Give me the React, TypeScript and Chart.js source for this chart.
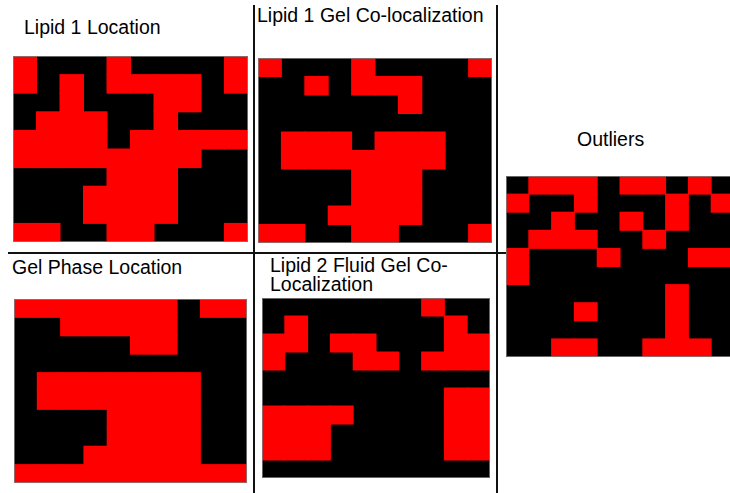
import React, { useEffect, useRef } from "react";
import { Chart, registerables } from "chart.js";

Chart.register(...registerables);

// ---- data ----
const columnLabels = ["c0", "c1", "c2", "c3", "c4", "c5", "c6", "c7", "c8", "c9"];

const lipid1Location = [
  [1, 0, 0, 0, 1, 0, 0, 0, 0, 1],
  [1, 0, 1, 0, 1, 1, 1, 1, 0, 1],
  [0, 0, 1, 0, 0, 0, 1, 1, 0, 0],
  [0, 1, 1, 1, 0, 0, 1, 0, 0, 0],
  [1, 1, 1, 1, 0, 1, 1, 1, 1, 1],
  [1, 1, 1, 1, 1, 1, 1, 1, 0, 0],
  [0, 0, 0, 0, 1, 1, 1, 0, 0, 0],
  [0, 0, 0, 1, 1, 1, 1, 0, 0, 0],
  [0, 0, 0, 1, 1, 1, 1, 0, 0, 0],
  [1, 1, 0, 0, 1, 1, 0, 0, 0, 1],
];

const lipid1GelColocalization = [
  [1, 0, 0, 0, 1, 0, 0, 0, 0, 1],
  [0, 0, 1, 0, 1, 1, 1, 0, 0, 0],
  [0, 0, 0, 0, 0, 0, 1, 0, 0, 0],
  [0, 0, 0, 0, 0, 0, 0, 0, 0, 0],
  [0, 1, 1, 1, 0, 1, 1, 1, 0, 0],
  [0, 1, 1, 1, 1, 1, 1, 1, 0, 0],
  [0, 0, 0, 0, 1, 1, 1, 0, 0, 0],
  [0, 0, 0, 0, 1, 1, 1, 0, 0, 0],
  [0, 0, 0, 1, 1, 1, 1, 0, 0, 0],
  [1, 1, 0, 0, 1, 1, 0, 0, 0, 1],
];

const outliers = [
  [0, 1, 1, 1, 0, 1, 1, 0, 1, 0],
  [1, 0, 0, 1, 0, 0, 0, 1, 0, 1],
  [0, 0, 1, 0, 0, 1, 0, 1, 0, 0],
  [0, 1, 1, 1, 0, 0, 1, 0, 0, 0],
  [1, 0, 0, 0, 1, 0, 0, 0, 1, 1],
  [1, 0, 0, 0, 0, 0, 0, 0, 0, 0],
  [0, 0, 0, 0, 0, 0, 0, 1, 0, 0],
  [0, 0, 0, 1, 0, 0, 0, 1, 0, 0],
  [0, 0, 0, 0, 0, 0, 0, 1, 0, 0],
  [0, 0, 1, 1, 0, 0, 1, 1, 1, 0],
];

const gelPhaseLocation = [
  [1, 1, 1, 1, 1, 1, 1, 0, 1, 1],
  [0, 0, 1, 1, 1, 1, 1, 0, 0, 0],
  [0, 0, 0, 0, 0, 1, 1, 0, 0, 0],
  [0, 0, 0, 0, 0, 0, 0, 0, 0, 0],
  [0, 1, 1, 1, 1, 1, 1, 1, 0, 0],
  [0, 1, 1, 1, 1, 1, 1, 1, 0, 0],
  [0, 0, 0, 0, 1, 1, 1, 1, 0, 0],
  [0, 0, 0, 0, 1, 1, 1, 1, 0, 0],
  [0, 0, 0, 1, 1, 1, 1, 1, 0, 0],
  [1, 1, 1, 1, 1, 1, 1, 1, 1, 1],
];

const lipid2FluidGelColocalization = [
  [0, 0, 0, 0, 0, 0, 0, 1, 0, 0],
  [0, 1, 0, 0, 0, 0, 0, 0, 1, 0],
  [1, 1, 0, 1, 1, 0, 0, 0, 1, 1],
  [1, 0, 0, 0, 1, 1, 0, 1, 1, 1],
  [0, 0, 0, 0, 0, 0, 0, 0, 0, 0],
  [0, 0, 0, 0, 0, 0, 0, 0, 1, 1],
  [1, 1, 1, 1, 0, 0, 0, 0, 1, 1],
  [1, 1, 1, 0, 0, 0, 0, 0, 1, 1],
  [1, 1, 1, 0, 0, 0, 0, 0, 1, 1],
  [0, 0, 0, 0, 0, 0, 0, 0, 0, 0],
];

// ---- layout / style ----
const RED = "#ff0000";
const BLACK = "#000000";
const FONT = "'Liberation Sans', Arial, sans-serif";

const panels = [
  { grid: lipid1Location, x: 13, y: 56, w: 235, h: 186 },
  { grid: lipid1GelColocalization, x: 258, y: 58, w: 234, h: 185 },
  { grid: outliers, x: 506, y: 176, w: 228, h: 181 },
  { grid: gelPhaseLocation, x: 14, y: 299, w: 233, h: 184 },
  { grid: lipid2FluidGelColocalization, x: 262, y: 298, w: 228, h: 180 },
];

const titles = [
  { lines: ["Lipid 1 Location"], left: 24, top: 18.3 },
  { lines: ["Lipid 1 Gel Co-localization"], left: 257, top: 5.5 },
  { lines: ["Outliers"], left: 577, top: 130.3 },
  { lines: ["Gel Phase Location"], left: 12, top: 257.6 },
  { lines: ["Lipid 2 Fluid Gel Co-", "Localization"], left: 270, top: 255.8 },
];

const frameRules = [
  { left: 253, top: 5, width: 2, height: 488 },
  { left: 496, top: 5, width: 2, height: 488 },
  { left: 8, top: 252, width: 498, height: 2 },
];

// black background behind the cells, gray frame around them
const framePlugin = {
  id: "cellFrame",
  beforeDatasetsDraw(chart: any) {
    const { ctx, chartArea } = chart;
    ctx.save();
    ctx.fillStyle = BLACK;
    ctx.fillRect(chartArea.left, chartArea.top, chartArea.right - chartArea.left, chartArea.bottom - chartArea.top);
    ctx.restore();
  },
  afterDraw(chart: any) {
    const { ctx, chartArea } = chart;
    ctx.save();
    ctx.strokeStyle = "rgba(128,128,128,0.8)";
    ctx.lineWidth = 1;
    ctx.strokeRect(
      chartArea.left + 0.5,
      chartArea.top + 0.5,
      chartArea.right - chartArea.left - 1,
      chartArea.bottom - chartArea.top - 1
    );
    ctx.restore();
  },
};

function GridChart({ grid, x, y, w, h }: { grid: number[][]; x: number; y: number; w: number; h: number }) {
  const ref = useRef<HTMLCanvasElement | null>(null);
  useEffect(() => {
    if (!ref.current) return;
    const nRows = grid.length;
    const chart = new Chart(ref.current, {
      type: "bar",
      data: {
        labels: columnLabels,
        datasets: grid.map((row, r) => ({
          label: "row " + r,
          data: row.map((v) => (v ? [nRows - 1 - r, nRows - r] : null)) as any,
          backgroundColor: RED,
          borderWidth: 0,
          inflateAmount: 0.5,
          grouped: false,
          barPercentage: 1,
          categoryPercentage: 1,
        })),
      },
      options: {
        responsive: false,
        animation: false,
        layout: { padding: 0 },
        plugins: { legend: { display: false }, tooltip: { enabled: false }, title: { display: false } },
        scales: {
          x: { display: false, offset: true, grid: { display: false } },
          y: { display: false, min: 0, max: nRows, grid: { display: false } },
        },
      },
      plugins: [framePlugin],
    });
    return () => chart.destroy();
  }, [grid]);
  return (
    <canvas
      ref={ref}
      width={w}
      height={h}
      style={{ position: "absolute", left: x, top: y, width: w, height: h }}
    />
  );
}

export default function App() {
  return (
    <div
      style={{
        position: "fixed",
        left: 0,
        top: 0,
        width: 730,
        height: 493,
        overflow: "hidden",
        background: "#ffffff",
        fontFamily: FONT,
      }}
    >
      {panels.map((p, i) => (
        <GridChart key={i} grid={p.grid} x={p.x} y={p.y} w={p.w} h={p.h} />
      ))}
      {titles.map((t, i) => (
        <div
          key={"t" + i}
          style={{
            position: "absolute",
            left: t.left,
            top: t.top,
            fontSize: 19.5,
            lineHeight: "19.5px",
            color: "#000",
            whiteSpace: "nowrap",
          }}
        >
          {t.lines.map((l, j) => (
            <div key={j}>{l}</div>
          ))}
        </div>
      ))}
      {frameRules.map((r, i) => (
        <div
          key={"r" + i}
          style={{ position: "absolute", left: r.left, top: r.top, width: r.width, height: r.height, background: "#111" }}
        />
      ))}
    </div>
  );
}
